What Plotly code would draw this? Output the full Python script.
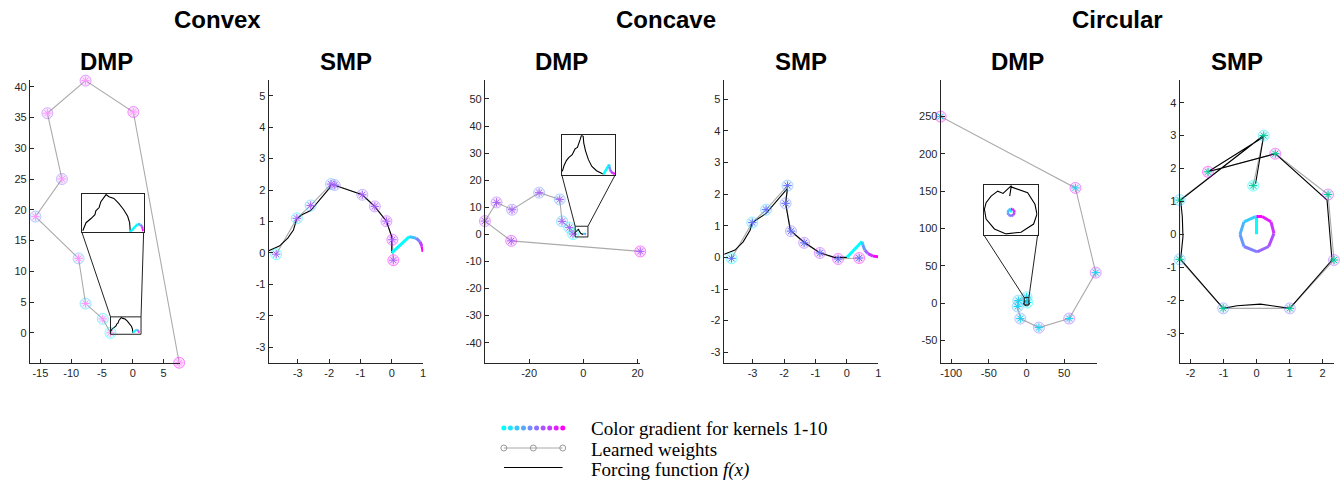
import plotly.graph_objects as go

W, H = 1343, 482

# ---------------- data ----------------
# Convex / DMP
cvx_dmp_wx = [-3.63, -4.87, -7.67, -8.8, -15.8, -11.5, -13.87, -7.67, 0.09, 7.53]
cvx_dmp_wy = [0.0, 2.27, 4.76, 12.1, 18.9, 25.0, 35.7, 41.0, 35.9, -4.86]
cvx_dmp_fx = [-3.63, -3.38, -3.0, -2.7, -2.63, -2.38, -2.25, -2.0, -1.85, -1.63, -1.25, -0.88, -0.5, -0.2, -0.05, 0.0]
cvx_dmp_fy = [0.07, 0.61, 0.89, 1.15, 1.41, 1.63, 2.02, 2.35, 2.5, 2.35, 2.24, 1.91, 1.48, 1.04, 0.61, 0.0]
cvx_traj_x = [0.0, 0.56, 0.78, 0.9, 0.97, 1.0]
cvx_traj_y = [0.0, 0.52, 0.47, 0.36, 0.2, 0.04]

# Convex / SMP
cvx_smp_wx = [-3.69, -3.03, -2.59, -1.94, -1.82, -0.94, -0.54, -0.17, 0.02, 0.05]
cvx_smp_wy = [-0.04, 1.1, 1.51, 2.19, 2.16, 1.85, 1.48, 1.01, 0.42, -0.23]
cvx_smp_fx = [-3.93, -3.59, -3.32, -3.14, -3.03, -2.85, -2.59, -1.99, -1.94, -1.82, -0.94, -0.54, -0.17, 0.0, 0.0]
cvx_smp_fy = [0.07, 0.22, 0.47, 0.73, 1.09, 1.22, 1.35, 2.06, 2.19, 2.15, 1.85, 1.47, 1.01, 0.52, 0.0]

# Concave / DMP
ccv_dmp_wx = [-3.8, -5.15, -7.85, -8.7, -16.3, -26.3, -32.0, -36.3, -26.6, 21.0]
ccv_dmp_wy = [0.1, 2.5, 4.8, 12.9, 15.4, 9.1, 11.8, 4.9, -2.4, -6.3]
ccv_dmp_fx = [-3.55, -3.4, -3.2, -3.0, -2.7, -2.55, -2.45, -2.25, -2.1, -2.0, -1.9, -1.75, -1.7, -1.55, -1.3, -1.0, -0.6, -0.25, 0.0]
ccv_dmp_fy = [0.15, 0.45, 0.7, 0.85, 1.0, 1.15, 1.3, 1.38, 1.6, 1.8, 2.0, 1.95, 1.6, 1.2, 0.75, 0.4, 0.18, 0.05, 0.0]
ccv_traj_x = [0.0, 0.48, 0.51, 0.57, 0.67, 0.83, 0.99]
ccv_traj_y = [0.0, 0.5, 0.39, 0.23, 0.12, 0.04, 0.02]

# Concave / SMP
ccv_smp_wx = [-3.67, -3.01, -2.57, -1.89, -1.95, -1.78, -1.36, -0.86, -0.28, 0.39]
ccv_smp_wy = [-0.03, 1.1, 1.51, 2.27, 1.71, 0.83, 0.46, 0.14, -0.05, -0.02]
ccv_smp_fx = [-3.9, -3.56, -3.3, -3.08, -3.01, -2.57, -1.89, -1.95, -1.8, -1.36, -0.86, -0.4, 0.0]
ccv_smp_fy = [0.1, 0.23, 0.49, 0.86, 1.1, 1.39, 2.18, 1.71, 0.85, 0.48, 0.15, 0.0, 0.0]

# Circular / DMP
cir_dmp_wx = [1.0, 0.2, -10.8, -11.7, -8.2, 16.5, 56.7, 91.9, 65.0, -114.0]
cir_dmp_wy = [1.0, 8.1, 3.6, -4.4, -20.5, -32.6, -20.5, 41.0, 154.5, 250.0]
cir_dmp_fx = [-0.2, 0.05, -1.2, -2.0, -3.0, -3.75, -4.0, -3.75, -2.5, -0.75, 1.5, 3.4, 3.9, 3.6, 2.5, 1.0, 0.0]
cir_dmp_fy = [2.5, 4.1, 2.9, 3.25, 2.5, 1.5, 0.5, -1.0, -2.5, -3.25, -3.0, -1.75, -0.25, 1.25, 3.0, 3.6, 3.9]
cir_traj_x = [0.0, 0.0, -0.03, -0.38, -0.5, -0.38, 0.02, 0.37, 0.53, 0.44, 0.17, 0.0]
cir_traj_y = [0.0, 0.54, 0.54, 0.38, 0.0, -0.37, -0.53, -0.37, 0.03, 0.38, 0.54, 0.54]

# Circular / SMP
cir_smp_wx = [-0.10, 0.22, -2.33, -2.33, -1.01, 1.01, 2.35, 2.17, 0.57, -1.47]
cir_smp_wy = [1.48, 3.0, 1.04, -0.76, -2.25, -2.25, -0.78, 1.21, 2.45, 1.9]
cir_smp_fx = [-0.03, 0.22, -2.3, -2.25, -2.23, -2.3, -1.01, -0.59, 0.12, 1.01, 2.29, 2.14, 0.57, -1.47, 0.2]
cir_smp_fy = [1.53, 3.01, 1.04, 0.54, -0.07, -0.76, -2.25, -2.17, -2.12, -2.25, -0.78, 1.04, 2.45, 1.9, 2.95]

group_titles = ["Convex", "Concave", "Circular"]
panel_titles = ["DMP", "SMP", "DMP", "SMP", "DMP", "SMP"]
legend_labels = ["Color gradient for kernels 1-10", "Learned weights", "Forcing function <i>f(x)</i>"]

# ---------------- layout geometry ----------------
TOP, BOT = 80, 363
panels = [
    dict(px=(30, 180), xr=[-16.7, 7.6], yr=[-4.9, 41.1], xt=[-15, -10, -5, 0, 5], yt=list(range(0, 45, 5)),
         wx=cvx_dmp_wx, wy=cvx_dmp_wy, fx=cvx_dmp_fx, fy=cvx_dmp_fy, tx=cvx_traj_x, ty=cvx_traj_y,
         inset=dict(box=[-8.27, 1.76, 16.38, 22.6], small=[-3.62, 1.34, -0.23, 2.6], xr=[-3.7, 1.02], yr=[-0.02, 2.55])),
    dict(px=(269.3, 424), xr=[-3.93, 1.0], yr=[-3.5, 5.5], xt=[-3, -2, -1, 0, 1], yt=list(range(-3, 6)),
         wx=cvx_smp_wx, wy=cvx_smp_wy, fx=cvx_smp_fx, fy=cvx_smp_fy, tx=cvx_traj_x, ty=cvx_traj_y, inset=None),
    dict(px=(486, 641.7), xr=[-36.3, 21.0], yr=[-47.5, 57.0], xt=[-20, 0, 20], yt=list(range(-40, 60, 10)),
         wx=ccv_dmp_wx, wy=ccv_dmp_wy, fx=ccv_dmp_fx, fy=ccv_dmp_fy, tx=ccv_traj_x, ty=ccv_traj_y,
         inset=dict(box=[-7.96, 11.8, 22.05, 36.6], small=[-3.0, 1.7, -0.96, 3.0], xr=[-3.6, 1.02], yr=[-0.02, 2.0])),
    dict(px=(725.3, 880.3), xr=[-3.92, 1.0], yr=[-3.34, 5.61], xt=[-3, -2, -1, 0, 1], yt=list(range(-3, 6)),
         wx=ccv_smp_wx, wy=ccv_smp_wy, fx=ccv_smp_fx, fy=ccv_smp_fy, tx=ccv_traj_x, ty=ccv_traj_y, inset=None),
    dict(px=(942.7, 1099), xr=[-114.0, 93.0], yr=[-80.0, 299.0], xt=[-100, -50, 0, 50], yt=list(range(-50, 300, 50)),
         wx=cir_dmp_wx, wy=cir_dmp_wy, fx=cir_dmp_fx, fy=cir_dmp_fy, tx=cir_traj_x, ty=cir_traj_y,
         inset=dict(box=[-56.7, 14.8, 91.6, 158.5], small=[-2.9, 3.2, -2.2, 7.6], xr=[-4.1, 4.0], yr=[-3.4, 4.2])),
    dict(px=(1182.3, 1337.3), xr=[-2.33, 2.36], yr=[-3.91, 4.69], xt=[-2, -1, 0, 1, 2], yt=list(range(-3, 5)),
         wx=cir_smp_wx, wy=cir_smp_wy, fx=cir_smp_fx, fy=cir_smp_fy, tx=cir_traj_x, ty=cir_traj_y, inset=None),
]
group_centers = [218, 667, 1120]
panel_centers = [107, 347, 563, 803, 1020, 1240]


def cool(t, a=1.0):
    r = int(round(255 * t))
    g = int(round(255 * (1 - t)))
    return f"rgba({r},{g},255,{a})"


AX_COLOR = "#262626"
TICKFONT = dict(family="Liberation Sans, Arial", size=11, color=AX_COLOR)

fig = go.Figure()
layout = dict(width=W, height=H, margin=dict(l=0, r=0, t=0, b=0),
              paper_bgcolor="white", plot_bgcolor="rgba(0,0,0,0)", showlegend=False,
              shapes=[], annotations=[])


def axname(i):
    return ("xaxis" if i == 1 else f"xaxis{i}"), ("yaxis" if i == 1 else f"yaxis{i}")


def ref(i):
    return ("x" if i == 1 else f"x{i}"), ("y" if i == 1 else f"y{i}")


def gradient(xs, ys, xr, yr, width):
    n = len(xs) - 1
    for k in range(n):
        t = k / max(n - 1, 1)
        fig.add_trace(go.Scatter(x=xs[k:k + 2], y=ys[k:k + 2], mode="lines",
                                 line=dict(color=cool(t), width=width),
                                 xaxis=xr, yaxis=yr, hoverinfo="skip"))


ydom = [1 - BOT / H, 1 - TOP / H]
inset_idx = 7
for i, p in enumerate(panels, start=1):
    xa, ya = axname(i)
    xr_, yr_ = ref(i)
    left, right = p["px"]
    layout[xa] = dict(domain=[left / W, right / W], range=p["xr"], anchor=yr_,
                      tickvals=p["xt"], ticktext=[str(v) for v in p["xt"]],
                      showgrid=False, zeroline=False, showline=True, linecolor=AX_COLOR, linewidth=1,
                      ticks="inside", ticklen=4, tickcolor=AX_COLOR, tickfont=TICKFONT)
    layout[ya] = dict(domain=ydom, range=p["yr"], anchor=xr_,
                      tickvals=p["yt"], ticktext=[str(v) for v in p["yt"]],
                      showgrid=False, zeroline=False, showline=True, linecolor=AX_COLOR, linewidth=1,
                      ticks="inside", ticklen=4, tickcolor=AX_COLOR, tickfont=TICKFONT)

    n = len(p["wx"])
    cols = [i_ / (n - 1) for i_ in range(n)]
    # learned weights line
    fig.add_trace(go.Scatter(x=p["wx"], y=p["wy"], mode="lines",
                             line=dict(color="#ababab", width=1.1), xaxis=xr_, yaxis=yr_))
    # forcing function
    fig.add_trace(go.Scatter(x=p["fx"], y=p["fy"], mode="lines",
                             line=dict(color="black", width=1.1), xaxis=xr_, yaxis=yr_))
    # trajectory
    gradient(p["tx"], p["ty"], xr_, yr_, 3 if p["inset"] is None else 2)
    # kernels: circle + asterisk
    fig.add_trace(go.Scatter(x=p["wx"], y=p["wy"], mode="markers", cliponaxis=False,
                             marker=dict(symbol="circle", size=11,
                                         color=[cool(t, 0.13) for t in cols],
                                         line=dict(color=[cool(t, 0.45) for t in cols], width=1)),
                             xaxis=xr_, yaxis=yr_))
    fig.add_trace(go.Scatter(x=p["wx"], y=p["wy"], mode="markers", cliponaxis=False,
                             marker=dict(symbol="asterisk-open", size=7,
                                         line=dict(color=[cool(t, 0.85) for t in cols], width=1)),
                             xaxis=xr_, yaxis=yr_))

    # inset (zoomed view of forcing function + trajectory)
    ins = p["inset"]
    if ins is not None:
        x0, x1, y0, y1 = ins["box"]

        def dx2paper(x):
            return (left + (x - p["xr"][0]) / (p["xr"][1] - p["xr"][0]) * (right - left)) / W

        def dy2paper(y):
            return ((1 - BOT / H) + (y - p["yr"][0]) / (p["yr"][1] - p["yr"][0]) * ((BOT - TOP) / H))

        ixa, iya = axname(inset_idx)
        ixr, iyr = ref(inset_idx)
        layout[ixa] = dict(domain=[dx2paper(x0), dx2paper(x1)], range=ins["xr"], anchor=iyr,
                           showgrid=False, zeroline=False, showticklabels=False, ticks="",
                           showline=True, mirror=True, linecolor="#222222", linewidth=1)
        layout[iya] = dict(domain=[dy2paper(y0), dy2paper(y1)], range=ins["yr"], anchor=ixr,
                           showgrid=False, zeroline=False, showticklabels=False, ticks="",
                           showline=True, mirror=True, linecolor="#222222", linewidth=1)
        fig.add_trace(go.Scatter(x=p["fx"], y=p["fy"], mode="lines",
                                 line=dict(color="black", width=1.1), xaxis=ixr, yaxis=iyr))
        gradient(p["tx"], p["ty"], ixr, iyr, 2.5)
        sx0, sx1, sy0, sy1 = ins["small"]
        layout["shapes"].append(dict(type="rect", xref=xr_, yref=yr_, x0=sx0, x1=sx1, y0=sy0, y1=sy1,
                                     line=dict(color="#222222", width=1)))
        layout["shapes"].append(dict(type="line", xref=xr_, yref=yr_, x0=sx0, y0=sy1, x1=x0, y1=y0,
                                     line=dict(color="#222222", width=1)))
        layout["shapes"].append(dict(type="line", xref=xr_, yref=yr_, x0=sx1, y0=sy1, x1=x1, y1=y0,
                                     line=dict(color="#222222", width=1)))
        inset_idx += 1

# titles
for name, cx in zip(group_titles, group_centers):
    layout["annotations"].append(dict(text=f"<b>{name}</b>", x=cx / W, y=1 - 20 / H, xref="paper", yref="paper",
                                      showarrow=False, xanchor="center", yanchor="middle",
                                      font=dict(family="Liberation Sans, Arial", size=24, color="black")))
for name, cx in zip(panel_titles, panel_centers):
    layout["annotations"].append(dict(text=f"<b>{name}</b>", x=cx / W, y=1 - 62 / H, xref="paper", yref="paper",
                                      showarrow=False, xanchor="center", yanchor="middle",
                                      font=dict(family="Liberation Sans, Arial", size=24, color="black")))

# legend drawn on a hidden axis
leg_x = list(range(10))
layout["xaxis10"] = dict(domain=[505 / W, 564 / W], range=[0, 9], visible=False, anchor="y10")
layout["yaxis10"] = dict(domain=[1 - 468 / H, 1 - 428 / H], range=[0, 2], visible=False, anchor="x10")
fig.add_trace(go.Scatter(x=leg_x, y=[2] * 10, mode="markers", cliponaxis=False,
                         marker=dict(size=5, color=[cool(t / 9) for t in leg_x]), xaxis="x10", yaxis="y10"))
fig.add_trace(go.Scatter(x=[0, 4.5, 9], y=[1, 1, 1], mode="lines+markers", cliponaxis=False,
                         line=dict(color="#a8a8a8", width=1),
                         marker=dict(symbol="circle-open", size=6, color="#999999"), xaxis="x10", yaxis="y10"))
fig.add_trace(go.Scatter(x=[0, 9], y=[0, 0], mode="lines", cliponaxis=False,
                         line=dict(color="black", width=2), xaxis="x10", yaxis="y10"))
for lab, yy in zip(legend_labels, [428, 449, 470]):
    layout["annotations"].append(dict(text=lab, x=590 / W, y=1 - yy / H, xref="paper", yref="paper",
                                      showarrow=False, xanchor="left", yanchor="middle",
                                      font=dict(family="Liberation Serif, Times New Roman", size=19, color="black")))

fig.update_layout(**layout)
fig.write_html("out.html", config={"displayModeBar": False},
               post_script="document.body.style.margin='0';document.body.style.overflow='hidden';")
